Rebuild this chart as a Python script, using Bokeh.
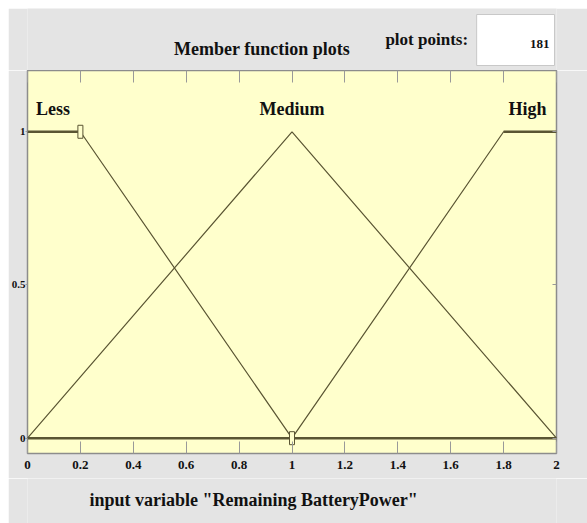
from bokeh.plotting import figure
from bokeh.layouts import column
from bokeh.models import ColumnDataSource, LinearAxis, FixedTicker, Range1d
from bokeh.core.properties import value
from bokeh.embed import file_html
from bokeh.resources import INLINE

# ---- data ----
mf_names = ["Less", "Medium", "High"]
less_x = [0.0, 0.2, 1.0, 2.0]
less_y = [1.0, 1.0, 0.0, 0.0]
medium_x = [0.0, 1.0, 2.0]
medium_y = [0.0, 1.0, 0.0]
high_x = [0.0, 1.0, 1.8, 2.0]
high_y = [0.0, 0.0, 1.0, 1.0]
marker_x = [0.2, 1.0]
marker_y = [1.0, 0.0]
x_ticks = [0.0, 0.2, 0.4, 0.6, 0.8, 1.0, 1.2, 1.4, 1.6, 1.8, 2.0]
x_tick_labels = ["0", "0.2", "0.4", "0.6", "0.8", "1", "1.2", "1.4", "1.6", "1.8", "2"]
y_ticks = [0.0, 0.5, 1.0]
y_tick_labels = ["0", "0.5", "1"]
plot_points = "181"
title_text = "Member function plots"
points_text = "plot points:"
xlabel_text = 'input variable "Remaining BatteryPower"'

FONT = "Liberation Serif"
LINE = "#5a5533"
GRAY = "#e4e4e4"
TXT = "#111111"
W = 579
LEFT, RIGHT = 18, 31
HEAD_H, MAIN_H, FOOT_H = 62, 408, 45


def strip(h):
    # pixel-coordinate strip whose frame lines up with the main plot's frame
    f = figure(width=W, height=h, x_range=Range1d(LEFT, W - RIGHT), y_range=Range1d(h, 0),
               x_axis_location=None, y_axis_location=None,
               output_backend="svg", toolbar_location=None,
               min_border_left=LEFT, min_border_right=RIGHT,
               min_border_top=0, min_border_bottom=0, outline_line_color=None,
               background_fill_color=GRAY, border_fill_color=GRAY)
    f.grid.visible = False
    return f


# ---- header: title, "plot points:" and its box ----
head = strip(HEAD_H)
head.quad(left=[468], right=[546], top=[6], bottom=[57],
          fill_color="white", line_color="#c8c8c8", line_width=1)
head.text(x=[253], y=[40], text=[title_text], text_font=value(FONT), text_font_style="bold",
          text_font_size="18px", text_align="center", text_baseline="alphabetic", text_color=TXT)
head.text(x=[418], y=[31], text=[points_text], text_font=value(FONT), text_font_style="bold",
          text_font_size="17px", text_align="center", text_baseline="alphabetic", text_color=TXT)
head.text(x=[541], y=[35], text=[plot_points], text_font=value(FONT), text_font_style="bold",
          text_font_size="13px", text_align="right", text_baseline="alphabetic", text_color=TXT)

# ---- main plot ----
p = figure(width=W, height=MAIN_H,
           x_range=Range1d(0, 2), y_range=Range1d(-0.05, 1.2),
           output_backend="svg", toolbar_location=None,
           min_border_left=LEFT, min_border_right=RIGHT,
           min_border_top=0, min_border_bottom=25,
           background_fill_color="#ffffcc", border_fill_color=GRAY,
           outline_line_color="#8c8c8c", outline_line_width=1.5)
p.grid.visible = False

xa = p.xaxis[0]
xa.ticker = FixedTicker(ticks=x_ticks)
xa.major_label_overrides = {t: l for t, l in zip(x_ticks, x_tick_labels)}
xa.major_label_text_font = FONT
xa.major_label_text_font_style = "bold"
xa.major_label_text_font_size = "13px"
xa.major_label_text_color = TXT
xa.major_label_standoff = 7
xa.major_tick_in = 12
xa.major_tick_out = 0
xa.major_tick_line_color = "#999999"
xa.minor_tick_line_color = None
xa.axis_line_color = None

ya = p.yaxis[0]
ya.ticker = FixedTicker(ticks=y_ticks)
ya.major_label_overrides = {t: l for t, l in zip(y_ticks, y_tick_labels)}
ya.major_label_text_font = FONT
ya.major_label_text_font_style = "bold"
ya.major_label_text_font_size = "11px"
ya.major_label_text_color = TXT
ya.major_label_standoff = 0
ya.major_tick_in = 0
ya.major_tick_out = 2
ya.major_tick_line_color = "#999999"
ya.minor_tick_line_color = None
ya.axis_line_color = None

top = LinearAxis(ticker=FixedTicker(ticks=x_ticks),
                 major_label_overrides={t: "" for t in x_ticks},
                 major_label_text_font_size="0px", major_label_standoff=0,
                 major_tick_in=12, major_tick_out=0,
                 major_tick_line_color="#999999",
                 minor_tick_line_color=None, axis_line_color=None)
p.add_layout(top, "above")
right = LinearAxis(ticker=FixedTicker(ticks=y_ticks),
                   major_label_overrides={t: "" for t in y_ticks},
                   major_tick_in=4, major_tick_out=0,
                   major_tick_line_color="#999999",
                   minor_tick_line_color=None, axis_line_color=None)
p.add_layout(right, "right")

for xs, ys in [(less_x, less_y), (medium_x, medium_y), (high_x, high_y)]:
    p.line(xs, ys, line_color=LINE, line_width=1.2)
    for i in range(len(xs) - 1):
        if ys[i] == ys[i + 1]:
            p.line([xs[i], xs[i + 1]], [ys[i], ys[i + 1]], line_color=LINE, line_width=2.6)

p.rect(marker_x, marker_y, width=5, height=13, width_units="screen", height_units="screen",
       fill_color="#ffffcc", line_color=LINE, line_width=1)

src = ColumnDataSource(dict(x=[0.096, 1.0, 1.89], y=[1.073, 1.073, 1.073], t=mf_names))
p.text("x", "y", text="t", source=src, text_font=value(FONT), text_font_style="bold",
       text_font_size="18px", text_align="center", text_baseline="alphabetic", text_color=TXT)

# ---- footer: x label ----
foot = strip(FOOT_H)
foot.text(x=[80], y=[21], text=[xlabel_text], text_font=value(FONT), text_font_style="bold",
          text_font_size="18px", text_align="left", text_baseline="alphabetic", text_color=TXT)

layout = column(head, p, foot, spacing=0, margin=(8, 0, 0, 8))
open("out.html", "w").write(file_html(layout, INLINE))
